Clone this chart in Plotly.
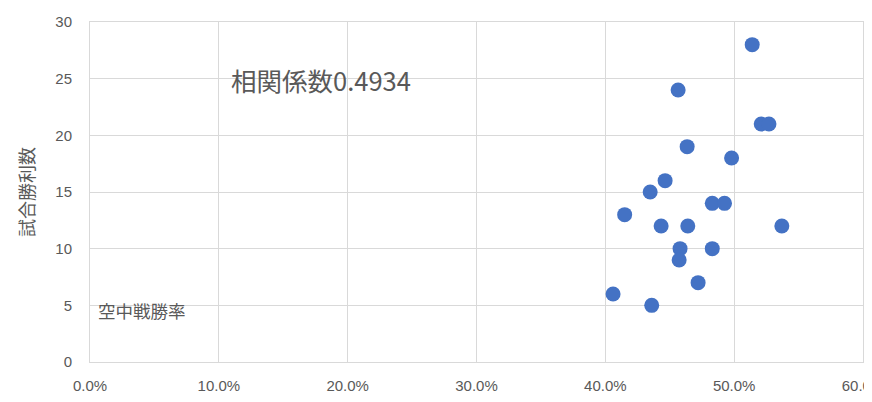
import plotly.graph_objects as go

# 空中戦勝率 (fraction) and 試合勝利数
air_win_rate = [0.514, 0.4565, 0.521, 0.527, 0.4635, 0.498, 0.4464, 0.4348,
                0.483, 0.4925, 0.415, 0.4433, 0.464, 0.537, 0.458, 0.483,
                0.4573, 0.472, 0.406, 0.436]
match_wins = [28, 24, 21, 21, 19, 18, 16, 15,
              14, 14, 13, 12, 12, 12, 10, 10,
              9, 7, 6, 5]

x_ticks = [0, 0.1, 0.2, 0.3, 0.4, 0.5, 0.6]
y_ticks = [0, 5, 10, 15, 20, 25, 30]

TXT = "#595959"
GRID = "#D9D9D9"
FONT = "Liberation Sans, Noto Sans CJK JP, sans-serif"
CJK = "Noto Sans CJK JP, sans-serif"

# the page body has an 8px margin, so the figure starts at (8, 8) in the window
OFF = 8
W, H = 872 - OFF, 402 - OFF
L, R, T, B = 90 - OFF, 9, 22 - OFF, 40

fig = go.Figure()
fig.add_trace(go.Scatter(
    x=air_win_rate, y=match_wins, mode="markers",
    marker=dict(size=15, color="#4472C4", line=dict(width=0)),
    showlegend=False, hoverinfo="skip"))

fig.update_layout(
    width=W, height=H,
    margin=dict(l=L, r=R, t=T, b=B, autoexpand=False),
    paper_bgcolor="white", plot_bgcolor="white",
    font=dict(family=FONT, color=TXT, size=15),
    xaxis=dict(range=[0, 0.6], tickvals=x_ticks, tickformat=".1%",
               automargin=False,
               showgrid=True, gridcolor=GRID, gridwidth=1,
               zeroline=False, showline=True, mirror=True,
               linecolor=GRID, linewidth=1,
               ticks="", ticklabelstandoff=10, ticklabeloverflow="allow",
               tickfont=dict(size=15, color=TXT)),
    yaxis=dict(range=[0, 30], tickvals=y_ticks, automargin=False,
               showgrid=True, gridcolor=GRID, gridwidth=1,
               zeroline=False, showline=True, mirror=True,
               linecolor=GRID, linewidth=1,
               ticks="", ticklabelstandoff=14,
               tickfont=dict(size=15, color=TXT),
               title=dict(text="試合勝利数", font=dict(family=CJK, size=18, color=TXT),
                          standoff=16)),
)

def ann(text, wx, wy, size):
    # window pixel position -> paper coordinates
    px = (wx - OFF - L) / (W - L - R)
    py = (H - B - (wy - OFF)) / (H - B - T)
    fig.add_annotation(text=text, x=px, y=py, xref="paper", yref="paper",
                       showarrow=False, font=dict(family=CJK, size=size, color=TXT),
                       xanchor="left", yanchor="middle")

ann("相関係数0.4934", 229, 80, 25.5)
ann("空中戦勝率", 96, 310, 17.5)

fig.write_html("out.html")
